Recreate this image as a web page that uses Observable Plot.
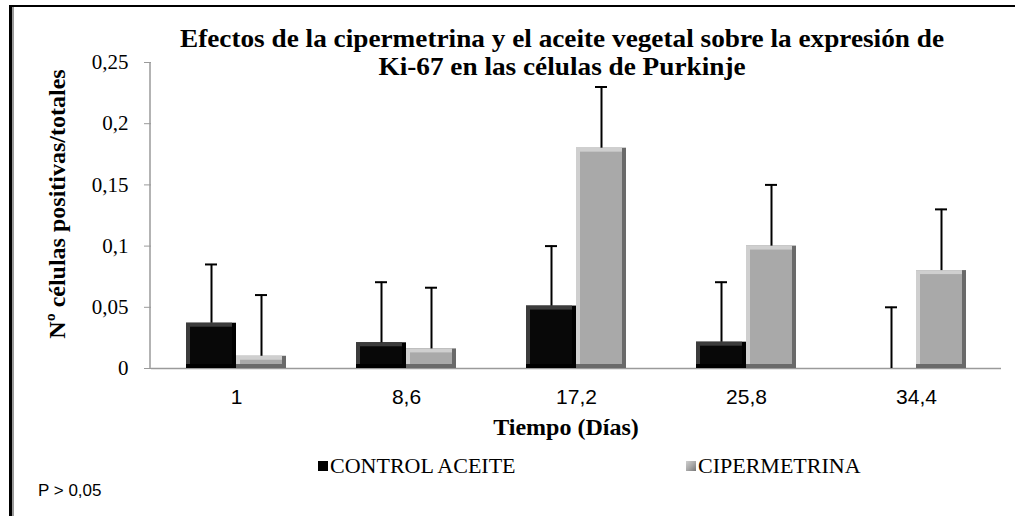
<!DOCTYPE html>
<html><head><meta charset="utf-8">
<script src="https://cdn.jsdelivr.net/npm/d3@7"></script>
<script src="https://cdn.jsdelivr.net/npm/@observablehq/plot@0.6"></script>
<style>
body{margin:0;background:#fff;}
#wrap{position:relative;width:1015px;height:516px;overflow:hidden;background:#fff;font-family:"Liberation Serif","Times New Roman",Times,serif;}
#wrap svg{position:absolute;left:0;top:0;}
.border{position:absolute;left:9px;top:5px;width:1100px;height:600px;border-top:2px solid #000;border-left:3px solid #000;box-shadow:inset 2px 0 0 #9a9a9a;}
.title{position:absolute;left:562px;white-space:nowrap;font-weight:bold;font-size:25px;line-height:28px;color:#000;transform:translate(-50%,-50%) scaleX(1.09);}
.ylab{position:absolute;left:57px;top:204px;transform:translate(-50%,-50%) rotate(-90deg);white-space:nowrap;font-weight:bold;font-size:24px;}
.xlab{position:absolute;left:566px;top:427px;transform:translate(-50%,-50%);white-space:nowrap;font-weight:bold;font-size:24px;}
.leg{position:absolute;top:466px;transform:translateY(-50%);white-space:nowrap;font-size:22px;display:flex;align-items:center;}
.sw{display:inline-block;width:10px;height:10px;margin-right:2px;}
.pval{position:absolute;left:38px;top:491px;transform:translateY(-50%);font-family:"Liberation Sans",Arial,sans-serif;font-size:17px;}
</style></head><body>
<div id="wrap">
  <div class="border"></div>
</div>
<script>
const days = ["1", "8,6", "17,2", "25,8", "34,4"];
const series = ["CONTROL ACEITE", "CIPERMETRINA"];
const controlMean = [0.037, 0.021, 0.051, 0.0215, 0];
const controlErr  = [0.048, 0.0495, 0.049, 0.049, 0.05];
const ciperMean   = [0.010, 0.016, 0.180, 0.100, 0.080];
const ciperErr    = [0.050, 0.050, 0.050, 0.050, 0.050];
const yTicks = [0, 0.05, 0.1, 0.15, 0.2, 0.25];
const titleText = ["Efectos de la cipermetrina y el aceite vegetal sobre la expresión de", "Ki-67 en las células de Purkinje"];
const yLabel = "Nº células positivas/totales";
const xLabel = "Tiempo (Días)";
const note = "P > 0,05";

const serifFont = "'Liberation Serif', 'Times New Roman', Times, serif";
const sansFont = "'Liberation Sans', Arial, sans-serif";

const rows = [];
days.forEach((d, i) => {
  rows.push({day: d, series: series[0], mean: controlMean[i], err: controlErr[i]});
  rows.push({day: d, series: series[1], mean: ciperMean[i], err: ciperErr[i]});
});
const fmt = v => v === 0 ? "0" : String(+v.toFixed(2)).replace(".", ",");

const edgeDark = {[series[0]]: "#000000", [series[1]]: "#6a6a6a"};
const edgeLight = {[series[0]]: "#3c3c3c", [series[1]]: "#cfcfcf"};
const face = {[series[0]]: "#080808", [series[1]]: "#a9a9a9"};

const plot = Plot.plot({
  width: 1015,
  height: 516,
  marginLeft: 150,
  marginRight: 14,
  marginTop: 62,
  marginBottom: 148,
  style: {background: "transparent", overflow: "visible"},
  fx: {domain: days, padding: 0, label: null},
  x: {domain: series, paddingInner: 0, paddingOuter: 0.7, axis: null},
  y: {domain: [0, 0.25], label: null},
  marks: [
    Plot.ruleY([0], {stroke: "#9a9a9a", strokeWidth: 1.5}),
    Plot.barY(rows, {fx: "day", x: "series", y: "mean", fill: d => edgeDark[d.series]}),
    Plot.barY(rows, {fx: "day", x: "series", y: "mean", fill: d => edgeLight[d.series], insetRight: 4, insetBottom: 4}),
    Plot.barY(rows, {fx: "day", x: "series", y: "mean", fill: d => face[d.series], insetLeft: 4, insetRight: 4, insetTop: 4, insetBottom: 4}),
    Plot.ruleX(rows, {fx: "day", x: "series", y1: "mean", y2: d => d.mean + d.err, stroke: "#000", strokeWidth: 2}),
    Plot.tickY(rows, {fx: "day", x: "series", y: d => d.mean + d.err, stroke: "#000", strokeWidth: 2, insetLeft: 19, insetRight: 19}),
    Plot.axisY({ticks: yTicks, tickFormat: fmt, tickSize: 7, tickPadding: 16, stroke: "#9a9a9a", fill: "#000", fontSize: 21, fontFamily: serifFont, label: null}),
    Plot.axisFx({anchor: "bottom", tickSize: 0, tickPadding: 21, fill: "#000", fontSize: 21, fontFamily: sansFont, label: null})
  ]
});
const wrap = document.getElementById("wrap");
wrap.appendChild(plot);

// y axis line from the library's scales
const ys = plot.scale("y"), fxs = plot.scale("fx");
d3.select(plot).append("line")
  .attr("x1", fxs.range[0]).attr("x2", fxs.range[0])
  .attr("y1", ys.range[0]).attr("y2", ys.range[1])
  .attr("stroke", "#9a9a9a").attr("stroke-width", 1.5);

const titleY = [39, 67];
titleText.forEach((line, i) => {
  const t = document.createElement("div");
  t.className = "title";
  t.style.top = titleY[i] + "px";
  t.textContent = line;
  wrap.appendChild(t);
});
const yl = document.createElement("div"); yl.className = "ylab"; yl.textContent = yLabel; wrap.appendChild(yl);
const xl = document.createElement("div"); xl.className = "xlab"; xl.textContent = xLabel; wrap.appendChild(xl);
const legPos = [318, 686];
const legSw = ["background:#000;", "background:linear-gradient(135deg,#cfcfcf,#a9a9a9 50%,#777);"];
series.forEach((s, i) => {
  const l = document.createElement("div");
  l.className = "leg";
  l.style.left = legPos[i] + "px";
  l.innerHTML = `<span class="sw" style="${legSw[i]}"></span>${s}`;
  wrap.appendChild(l);
});
const p = document.createElement("div"); p.className = "pval"; p.textContent = note; wrap.appendChild(p);
</script>
</body></html>
